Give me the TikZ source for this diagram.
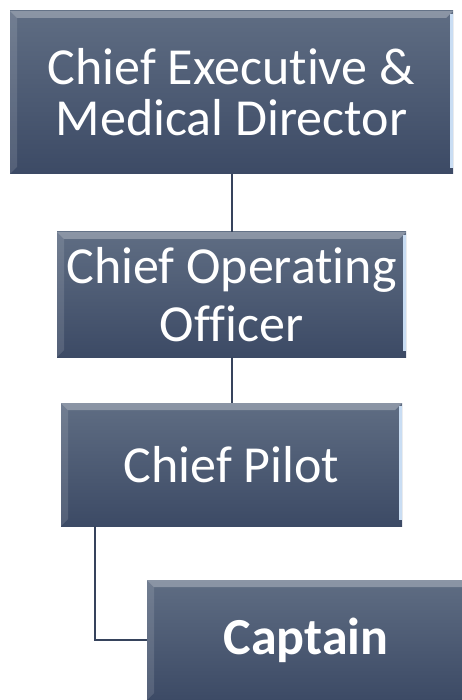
\documentclass[tikz,border=0pt]{standalone}
\usepackage{fontspec}
\setmainfont{Carlito}[Ligatures=NoCommon]
\definecolor{boxtop}{HTML}{5F6D83}
\definecolor{boxbot}{HTML}{3C4A65}
\definecolor{linkcol}{HTML}{36435C}
\definecolor{edgelight}{HTML}{C9DDF3}
\begin{document}
\begin{tikzpicture}[x=1pt,y=-1pt,
  rolebox/.style={rectangle, inner sep=0pt, text=white, align=center,
    font=\fontsize{52}{54}\selectfont, top color=boxtop, bottom color=boxbot,
    path picture={
      \fill[white,opacity=0.28] (path picture bounding box.north west) -- (path picture bounding box.north east)
        -- ([xshift=-7pt,yshift=-7pt]path picture bounding box.north east) -- ([xshift=7pt,yshift=-7pt]path picture bounding box.north west) -- cycle;
      \fill[white,opacity=0.12] (path picture bounding box.north west) -- ([xshift=7pt,yshift=-7pt]path picture bounding box.north west)
        -- ([xshift=7pt,yshift=7pt]path picture bounding box.south west) -- (path picture bounding box.south west) -- cycle;
      \fill[edgelight] ([xshift=-3pt,yshift=-3pt]path picture bounding box.north east) rectangle ([yshift=6pt]path picture bounding box.south east);
    }},
  link/.style={draw=linkcol, line width=2pt}]
\useasboundingbox (0,0) rectangle (462,700);
\node[rolebox, minimum width=443pt, minimum height=163pt] (ceo) at (231.5,92.5) {Chief Executive \&\\[-3pt]Medical Director};
\node[rolebox, minimum width=349pt, minimum height=125pt] (coo) at (231.5,294.5) {Chief Operating\\[4pt]Officer};
\node[rolebox, minimum width=341pt, minimum height=123pt] (pilot) at (231.5,464.5) {Chief Pilot};
\node[rolebox, minimum width=325pt, minimum height=120pt, font=\fontsize{52}{54}\selectfont\bfseries] (captain) at (309.5,640) {\hspace*{-7pt}Captain};
\draw[link] (ceo) -- (coo);
\draw[link] (coo) -- (pilot);
\draw[link] ([xshift=34pt]pilot.south west) |- (captain.west);
\end{tikzpicture}
\end{document}
